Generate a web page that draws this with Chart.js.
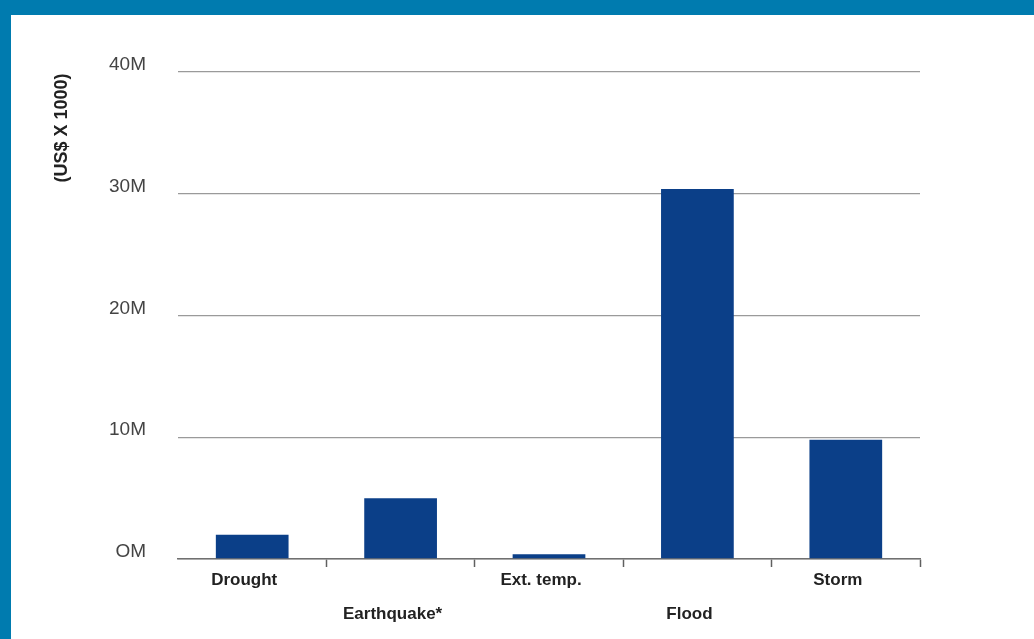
<!DOCTYPE html>
<html>
<head>
<meta charset="utf-8">
<script src="https://cdn.jsdelivr.net/npm/chart.js@4/dist/chart.umd.min.js"></script>
<style>
    html, body { margin: 0; padding: 0; background: #007baf; overflow: hidden; }
    #wrap { position: absolute; left: 11px; top: 15px; width: 1023px; height: 624px; background: #fff; }
</style>
</head>
<body>
<div id="wrap"><canvas id="chart" width="1023" height="624"></canvas></div>
<script>
// losses by disaster type, millions of US$ (x 1000)
var categories = ['Drought', 'Earthquake*', 'Ext. temp.', 'Flood', 'Storm'];
var losses = [2.0, 5.0, 0.4, 30.4, 9.8];
var yTickLabels = ['OM', '10M', '20M', '30M', '40M'];

// every second label sits on a lower line
var labels = categories.map(function(c, i) { return i % 2 ? ['', c] : c; });

// rotated axis title near the top of the y axis
var yTitle = {
    id: 'yTitle',
    afterDraw: function(chart) {
        var ctx = chart.ctx;
        ctx.save();
        ctx.translate(51, chart.chartArea.top + 56);
        ctx.rotate(-Math.PI / 2);
        ctx.font = 'bold 18px "Liberation Sans", Arial, sans-serif';
        ctx.fillStyle = '#222';
        ctx.textAlign = 'center';
        ctx.textBaseline = 'middle';
        ctx.fillText('(US$ X 1000)', 0, 0);
        ctx.restore();
    }
};

var ctx = document.getElementById('chart').getContext('2d');
var chart = new Chart(ctx, {
    type: 'bar',
    data: {
        labels: labels,
        datasets: [{
            data: losses,
            backgroundColor: '#0b3f88',
            barPercentage: 0.49,
            categoryPercentage: 1
        }]
    },
    options: {
        responsive: false,
        animation: false,
        layout: { padding: { top: 57, right: 114, left: 0, bottom: 0 } },
        plugins: { legend: { display: false }, tooltip: { enabled: false } },
        scales: {
            x: {
                afterFit: function(scale) { scale.height = 80; },
                border: { display: true, color: '#707070', width: 1.5 },
                grid: {
                    drawOnChartArea: false,
                    drawTicks: true,
                    tickLength: 8,
                    tickWidth: 1.5,
                    tickColor: function(c) { return c.index === 0 ? 'rgba(0,0,0,0)' : '#606060'; }
                },
                ticks: {
                    maxRotation: 0,
                    autoSkip: false,
                    padding: -4,
                    labelOffset: -8,
                    color: '#222',
                    font: { family: '"Liberation Sans", Arial, sans-serif', size: 17, weight: 'bold', lineHeight: 2 }
                }
            },
            y: {
                min: 0,
                max: 40,
                afterFit: function(scale) { scale.width = 167; },
                border: { display: false },
                grid: { color: '#9a9a9a', lineWidth: 1.3, drawTicks: false },
                ticks: {
                    stepSize: 10,
                    padding: 32,
                    labelOffset: -7,
                    color: '#444',
                    font: { family: '"Liberation Sans", Arial, sans-serif', size: 19 },
                    callback: function(v, i) { return yTickLabels[i]; }
                }
            }
        }
    },
    plugins: [yTitle]
});
</script>
</body>
</html>
